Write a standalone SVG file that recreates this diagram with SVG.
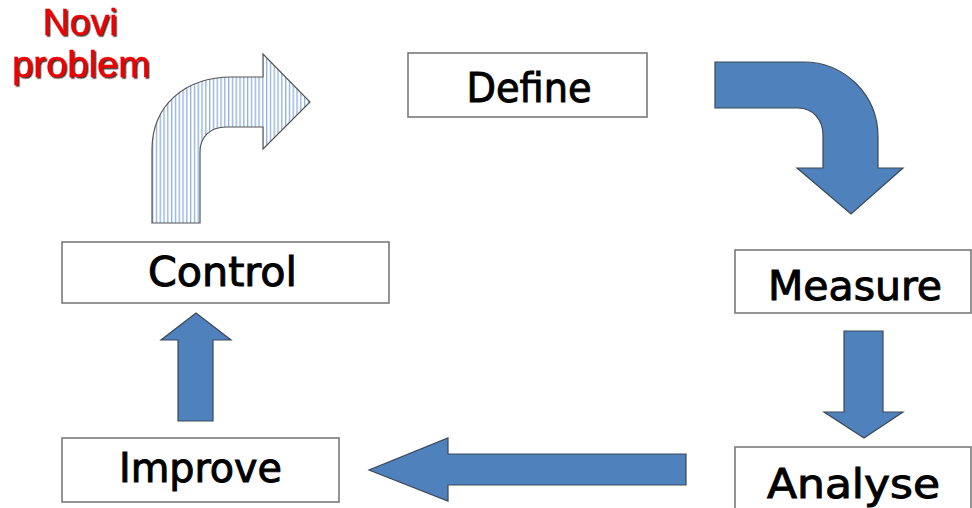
<svg xmlns="http://www.w3.org/2000/svg" width="972" height="508" viewBox="0 0 972 508">
<style>
.box{fill:#fff;stroke:#7a7a7a;stroke-width:1.6}
.lbl{font-family:"DejaVu Sans Condensed","DejaVu Sans",sans-serif;font-stretch:condensed;font-size:41px;fill:#000;stroke:#000;stroke-width:0.9;text-anchor:middle}
.arr{fill:#4f81bd;stroke:#3b4856;stroke-width:1.2;stroke-linejoin:miter}
.red{font-family:"Liberation Sans",Arial,sans-serif;font-size:37px;fill:#ee0000;stroke:#ee0000;stroke-width:0.4;text-anchor:middle}
</style>
<defs>
<pattern id="stripes" width="3.8" height="10" patternUnits="userSpaceOnUse">
<rect width="3.8" height="10" fill="#fff"/>
<rect x="0" y="0" width="1.3" height="10" fill="#8fb0dd"/>
</pattern>
<filter id="shadow" x="-10%" y="-10%" width="130%" height="140%">
<feDropShadow dx="1.5" dy="1.5" stdDeviation="0.6" flood-color="#2a0000" flood-opacity="0.85"/>
</filter>
</defs>
<rect width="972" height="508" fill="#fff"/>
<g id="novi-problem">
<text class="red" x="80" y="35" filter="url(#shadow)" textLength="75" lengthAdjust="spacingAndGlyphs">Novi</text>
<text class="red" x="81" y="77" filter="url(#shadow)" textLength="138" lengthAdjust="spacingAndGlyphs">problem</text>
</g>
<g id="define">
<rect class="box" x="408" y="53" width="239" height="64"/>
<text class="lbl" x="529" y="102" textLength="125" lengthAdjust="spacingAndGlyphs">Define</text>
</g>
<g id="measure">
<rect class="box" x="735" y="250" width="236" height="63"/>
<text class="lbl" x="855" y="300" textLength="174" lengthAdjust="spacingAndGlyphs">Measure</text>
</g>
<g id="analyse">
<rect class="box" x="735" y="447" width="236" height="70"/>
<text class="lbl" x="853.5" y="498" textLength="173" lengthAdjust="spacingAndGlyphs">Analyse</text>
</g>
<g id="improve">
<rect class="box" x="62" y="438" width="277" height="64"/>
<text class="lbl" x="200.5" y="482" textLength="163" lengthAdjust="spacingAndGlyphs">Improve</text>
</g>
<g id="control">
<rect class="box" x="62" y="242" width="327" height="61"/>
<text class="lbl" x="222.5" y="286" textLength="149" lengthAdjust="spacingAndGlyphs">Control</text>
</g>
<g id="connectors">
<path id="arrow-new" d="M152,223 L152,150 C152,105 185,77 232,77 L263,77 L263,54 L310,102 L263,149 L263,127 L226,127 C210,127 200,137 200,152 L200,223 Z" fill="url(#stripes)" stroke="#555" stroke-width="1.2"/>
<path id="arrow-define-measure" class="arr" d="M715,62 L803,62 C845,62 878,95 878,137 L878,168 L903,168 L851,214 L797,168 L823,168 L823,135 C823,120 813,108 798,108 L715,108 Z"/>
<path id="arrow-measure-analyse" class="arr" d="M844,331 L883,331 L883,412 L903,412 L864,438 L824,412 L844,412 Z"/>
<path id="arrow-analyse-improve" class="arr" d="M686,454 L686,485 L448,485 L448,501 L369,470 L448,438 L448,454 Z"/>
<path id="arrow-improve-control" class="arr" d="M178,421 L213,421 L213,340 L231,340 L196,313 L161,340 L178,340 Z"/>
</g>
</svg>
